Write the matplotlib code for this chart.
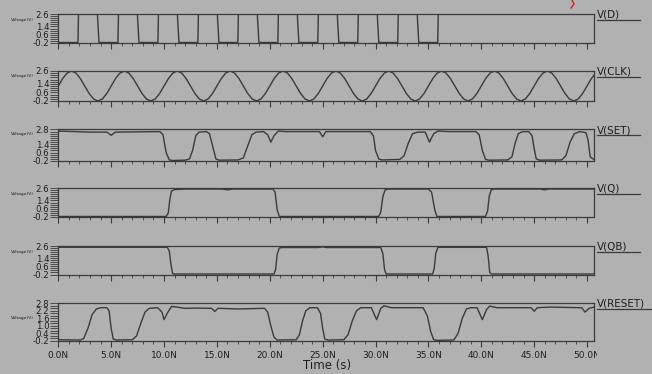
import numpy as np
import matplotlib
matplotlib.use("Agg")
import matplotlib.pyplot as plt
from matplotlib.lines import Line2D
from matplotlib.transforms import Bbox, TransformedBbox

# ---------------- data (time in ns, voltage in V) ----------------
d_edges = [1.86, 3.75, 5.64, 7.53, 9.42, 11.31, 13.20, 15.09, 16.98, 18.87,
           20.76, 22.65, 24.54, 26.43, 28.32, 30.21, 32.10, 33.99, 35.88]
d_low, d_high = -0.15, 2.57

clk_step = 5.0 / 12
clk_v = [1.2, 1.9, 2.41, 2.6, 2.41, 1.9, 1.2, 0.5, -0.01, -0.2, -0.01, 0.5] * 10 + [1.2, 1.9, 2.41]

set_t = [0, 1.5, 3, 4.6, 5.0, 5.4, 7, 9.6, 9.9, 10.2, 10.5, 10.8, 12.0, 12.4, 12.7, 13.0, 13.3,
         14.0, 14.3, 14.6, 14.9, 15.2, 17.0, 17.5, 17.9, 18.3, 18.7, 19.4, 19.8, 20.1, 20.4,
         20.8, 21.5, 24.7, 25.0, 25.3, 29.5, 29.8, 30.0, 30.3, 30.6, 32.3, 32.7, 33.1, 33.5,
         34.0, 34.7, 35.1, 35.5, 35.9, 37, 39.5, 39.8, 40.1, 40.4, 40.7, 42.5, 42.9, 43.2,
         43.5, 43.9, 44.5, 44.8, 45.0, 45.2, 45.5, 47.6, 48.0, 48.4, 48.8, 49.3, 49.9, 50.1,
         50.3, 50.7]
set_v = [2.65, 2.6, 2.55, 2.55, 2.25, 2.55, 2.57, 2.6, 2.3, 0.6, -0.1, -0.15, -0.12, 0.0, 0.8,
         2.2, 2.55, 2.6, 2.4, 1.2, 0.0, -0.12, -0.1, 0.1, 1.2, 2.3, 2.55, 2.6, 2.3, 1.6, 2.2,
         2.65, 2.6, 2.6, 2.1, 2.6, 2.6, 2.2, 0.8, 0.0, -0.1, -0.05, 0.3, 1.5, 2.4, 2.55, 2.55,
         1.6, 2.4, 2.65, 2.6, 2.6, 2.3, 0.8, -0.05, -0.12, -0.1, 0.2, 1.5, 2.4, 2.6, 2.6, 2.2,
         1.0, 0.0, -0.12, -0.1, 0.3, 1.6, 2.4, 2.6, 2.5, 1.8, 0.2, -0.1]

q_t = [0, 10.2, 10.4, 10.55, 10.7, 11.0, 12, 15.5, 16, 16.5, 20.3, 20.5, 20.7, 20.9, 30.3,
       30.5, 30.7, 30.9, 31.2, 35.0, 35.3, 35.6, 35.8, 40.4, 40.6, 40.75, 40.95, 41.3, 45.6,
       46, 46.4, 50.7]
q_v = [-0.15, -0.15, 0.2, 1.5, 2.3, 2.45, 2.5, 2.5, 2.42, 2.5, 2.5, 2.2, 0.5, -0.15, -0.15,
       0.3, 1.8, 2.4, 2.5, 2.5, 2.2, 0.5, -0.15, -0.15, 0.4, 1.8, 2.45, 2.5, 2.5, 2.42, 2.5, 2.5]

qb_t = [0, 10.3, 10.5, 10.65, 10.8, 11.0, 20.4, 20.55, 20.7, 20.9, 21.2, 24.6, 25.0, 25.4,
        30.5, 30.7, 30.85, 31.0, 35.4, 35.55, 35.7, 35.9, 40.5, 40.65, 40.8, 40.95, 50.7]
qb_v = [2.48, 2.48, 2.1, 0.8, -0.1, -0.15, -0.15, 0.3, 1.8, 2.4, 2.45, 2.45, 2.52, 2.45,
        2.45, 1.8, 0.3, -0.15, -0.15, 0.4, 1.9, 2.47, 2.47, 1.6, 0.0, -0.15, -0.15]

reset_t = [0, 2.1, 2.4, 2.8, 3.2, 3.6, 4.0, 4.6, 4.8, 5.0, 5.2, 5.5, 7.0, 7.4, 7.8, 8.2, 8.6,
           9.4, 9.8, 10.0, 10.3, 10.7, 11.2, 12, 13, 14.5, 14.8, 15.1, 17, 19.5, 19.8, 20.1,
           20.4, 20.7, 22.5, 22.8, 23.1, 23.4, 23.8, 24.5, 24.8, 25.0, 25.2, 25.5, 27.0, 27.4,
           27.8, 28.2, 28.6, 29.6, 30.1, 30.5, 30.8, 31.5, 33, 34.5, 34.9, 35.2, 35.5, 35.8,
           37.4, 37.8, 38.2, 38.6, 39.0, 39.6, 40.1, 40.5, 40.8, 41.5, 44.7, 45.0, 45.3, 46.5,
           49.5, 49.8, 50.2, 50.7]
reset_v = [-0.1, -0.12, 0.0, 0.8, 1.9, 2.35, 2.45, 2.45, 2.2, 0.8, -0.05, -0.12, -0.1, 0.2,
           1.2, 2.1, 2.4, 2.45, 2.1, 1.5, 2.0, 2.55, 2.5, 2.4, 2.42, 2.4, 2.15, 2.4, 2.35, 2.4,
           2.1, 1.0, 0.1, -0.12, -0.1, 0.3, 1.4, 2.2, 2.45, 2.45, 2.0, 0.8, -0.05, -0.12, -0.1,
           0.3, 1.4, 2.2, 2.45, 2.45, 1.5, 2.4, 2.6, 2.45, 2.45, 2.45, 1.8, 0.6, -0.1, -0.15,
           -0.12, 0.4, 1.6, 2.35, 2.45, 2.45, 1.5, 2.3, 2.58, 2.45, 2.45, 2.17, 2.45, 2.5, 2.45,
           2.1, 2.4, 2.5]

names = ["V(D)", "V(CLK)", "V(SET)", "V(Q)", "V(QB)", "V(RESET)"]
yticks_list = [[2.6, 1.4, 0.6, -0.2], [2.6, 1.4, 0.6, -0.2], [2.8, 1.4, 0.6, -0.2],
               [2.6, 1.4, 0.6, -0.2], [2.6, 1.4, 0.6, -0.2], [2.8, 2.2, 1.6, 1.0, 0.4, -0.2]]
xtick_vals = [0, 5, 10, 15, 20, 25, 30, 35, 40, 45, 50]
xtick_labels = ["0.0N", "5.0N", "10.0N", "15.0N", "20.0N", "25.0N", "30.0N", "35.0N",
                "40.0N", "45.0N", "50.0N"]

# ---------------- build D step trace from its edges ----------------
d_t, d_v = [0.0], [d_low]
for k, e in enumerate(d_edges):
    if k % 2 == 0:
        d_t += [e, e + 0.05]
        d_v += [d_low, d_high]
    else:
        d_t += [e - 0.05, e + 0.1]
        d_v += [d_high, d_low]
d_t.append(50.7)
d_v.append(d_high)
clk_t = [i * clk_step for i in range(len(clk_v))]

series = [(d_t, d_v), (clk_t, clk_v), (set_t, set_v), (q_t, q_v), (qb_t, qb_v),
          (reset_t, reset_v)]

# ---------------- layout ----------------
W, H = 652, 374
BG = "#b1b1b1"
INK = "#3a3a3a"
TXT = "#1e1e1e"
left_px, right_px = 58.3, 594.0
panels_px = [(14, 43), (71, 101), (129.5, 161), (188, 217), (246, 274.5), (303.3, 341)]
volt_y = [19.5, 76.5, 134.5, 194.2, 251.8, 318.3]
volt_right = [33.5, 33.5, 33.5, 33.5, 33.5, 33.5]
underline_end = [640, 640, 640, 640, 640, 652]

fig = plt.figure(figsize=(W / 100, H / 100), dpi=100, facecolor=BG)
clipbox = TransformedBbox(Bbox([[0, 0], [597 / W, 1]]), fig.transFigure)

for i, ((top, bot), (t, v)) in enumerate(zip(panels_px, series)):
    ax = fig.add_axes([left_px / W, 1 - bot / H, (right_px - left_px) / W, (bot - top) / H])
    ax.set_facecolor(BG)
    ax.plot(t, v, color=INK, lw=1.0, solid_joinstyle="round")
    yt = yticks_list[i]
    ax.set_ylim(min(yt), max(yt))
    ax.set_xlim(0, 50.66)
    ax.set_yticks(yt)
    ax.set_yticklabels([f"{y:.1f}" for y in yt], fontsize=6.2, color=TXT)
    ax.set_yticks(np.arange(min(yt), max(yt) + 0.01, 0.2), minor=True)
    ax.set_xticks(xtick_vals)
    ax.set_xticks(np.arange(0, 51, 1), minor=True)
    ax.tick_params(axis="y", which="both", direction="out", length=5.5, width=0.6,
                   color=INK, pad=1)
    ax.tick_params(axis="x", which="major", direction="out", length=4, width=0.8,
                   color=INK, pad=3)
    ax.tick_params(axis="x", which="minor", direction="out", length=2, width=0.6, color=INK)
    for s in ax.spines.values():
        s.set_color(INK)
        s.set_linewidth(0.9)
    if i == len(series) - 1:
        ax.set_xticklabels(xtick_labels, fontsize=6.5, color=TXT)
        for lab in ax.get_xticklabels():
            lab.set_clip_box(clipbox)
            lab.set_clip_on(True)
    else:
        ax.set_xticklabels([])
    # right-hand signal label with underline
    fig.text(597 / W, 1 - (top + 0.5) / H, names[i], fontsize=7.5, color=TXT,
             ha="left", va="center")
    fig.add_artist(Line2D([597 / W, underline_end[i] / W],
                          [1 - (top + 5.8) / H, 1 - (top + 5.8) / H],
                          transform=fig.transFigure, color=INK, lw=0.9))
    # tiny axis caption
    fig.text(volt_right[i] / W, 1 - volt_y[i] / H, "Voltage(V)", fontsize=3.2, color=TXT,
             ha="right", va="center")

fig.text(327 / W, 1 - 366 / H, "Time (s)", fontsize=8.5, color=TXT, ha="center",
         va="center")
# small red fragment of a cropped annotation at the top edge
fig.add_artist(Line2D([572 / W, 574 / W, 571 / W], [1 - 0 / H, 1 - 4 / H, 1 - 8 / H],
                      transform=fig.transFigure, color="#d02020", lw=1.0))

fig.savefig("out.png", dpi=100, facecolor=BG)
